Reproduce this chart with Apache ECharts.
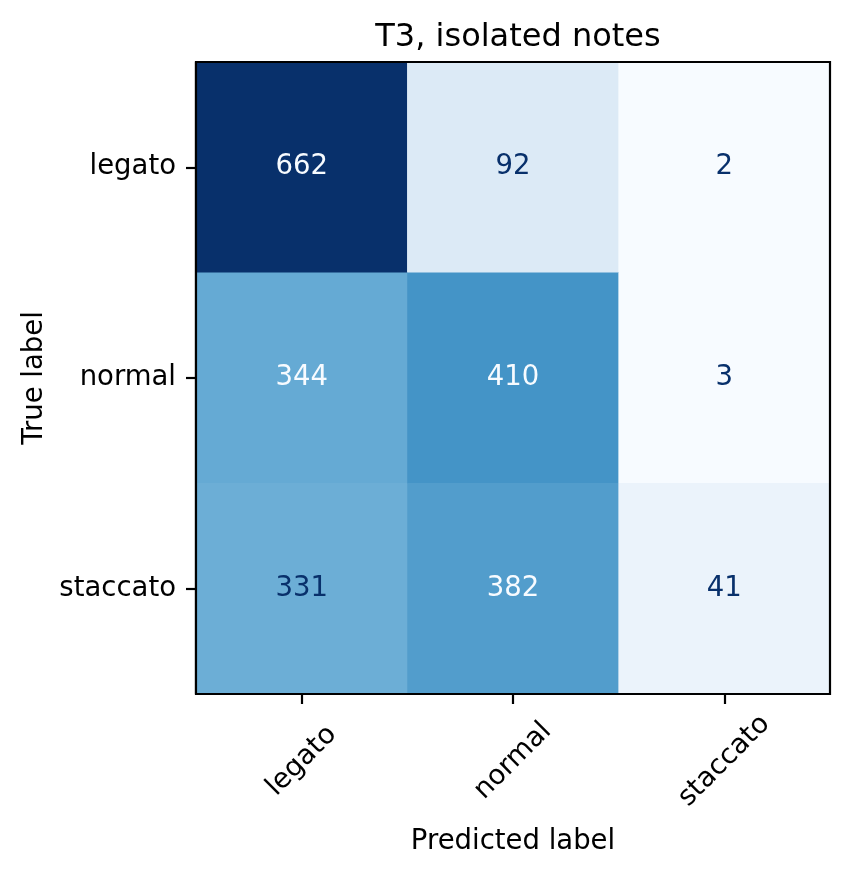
<!DOCTYPE html>
<html>
<head>
<meta charset="utf-8">
<script src="https://cdn.jsdelivr.net/npm/echarts@6/dist/echarts.min.js"></script>
<style>
  html, body { margin: 0; padding: 0; background: #fff; }
  #main { width: 849px; height: 877px; }
</style>
</head>
<body>
<div id="main"></div>
<script>
// class names (same for true and predicted)
var labels = ['legato', 'normal', 'staccato'];
// rows = true label, columns = predicted label
var rowLegato = [662, 92, 2];
var rowNormal = [344, 410, 3];
var rowStaccato = [331, 382, 41];
var matrix = [rowLegato, rowNormal, rowStaccato];

// matplotlib "Blues"
var blues = ['#f7fbff', '#deebf7', '#c6dbef', '#9ecae1', '#6baed6', '#4292c6', '#2171b5', '#08519c', '#08306b'];

var vmin = Infinity, vmax = -Infinity;
matrix.forEach(function (r) {
  r.forEach(function (v) { vmin = Math.min(vmin, v); vmax = Math.max(vmax, v); });
});
var thresh = (vmin + vmax) / 2;

var data = [];
matrix.forEach(function (r, i) {
  r.forEach(function (v, j) {
    data.push({
      value: [j, i, v],
      label: { color: v < thresh ? blues[8] : blues[0] }
    });
  });
});

var chart = echarts.init(document.getElementById('main'));
var font = 'DejaVu Sans';
var fs = 27.5;

var option = {
  backgroundColor: '#fff',
  animation: false,
  title: {
    text: 'T3, isolated notes',
    left: 513,
    textAlign: 'center',
    top: 17,
    textStyle: { fontFamily: font, fontSize: 32, fontWeight: 'normal', color: '#000' }
  },
  grid: {
    left: 196, right: 19, top: 62, bottom: 183,
    show: true, borderColor: '#000', borderWidth: 2.2,
    z: 10,
    containLabel: false
  },
  xAxis: {
    type: 'category',
    data: labels,
    name: 'Predicted label',
    nameLocation: 'middle',
    nameGap: 134,
    nameTextStyle: { fontFamily: font, fontSize: fs, color: '#000' },
    axisLine: { show: true, lineStyle: { color: '#000', width: 2.2 } },
    axisTick: { show: true, alignWithLabel: true, length: 10, lineStyle: { color: '#000', width: 2.2 } },
    axisLabel: {
      rotate: 45, align: 'center', verticalAlign: 'middle', margin: 67,
      fontFamily: font, fontSize: fs, color: '#000'
    },
    splitLine: { show: false }
  },
  yAxis: {
    type: 'category',
    data: labels,
    inverse: true,
    name: 'True label',
    nameLocation: 'middle',
    nameRotate: 90,
    nameGap: 147,
    nameTextStyle: { fontFamily: font, fontSize: fs, color: '#000' },
    axisLine: { show: true, lineStyle: { color: '#000', width: 2.2 } },
    axisTick: { show: true, alignWithLabel: true, length: 10, lineStyle: { color: '#000', width: 2.2 } },
    axisLabel: { margin: 20, fontFamily: font, fontSize: fs, color: '#000' },
    splitLine: { show: false }
  },
  visualMap: {
    show: false,
    min: vmin,
    max: vmax,
    dimension: 2,
    inRange: { color: blues }
  },
  series: [{
    type: 'heatmap',
    data: data,
    label: {
      show: true,
      fontFamily: font,
      fontSize: fs,
      formatter: function (p) { return p.value[2]; }
    },
    itemStyle: { borderWidth: 0 },
    emphasis: { disabled: true }
  }]
};

chart.setOption(option);
</script>
</body>
</html>
